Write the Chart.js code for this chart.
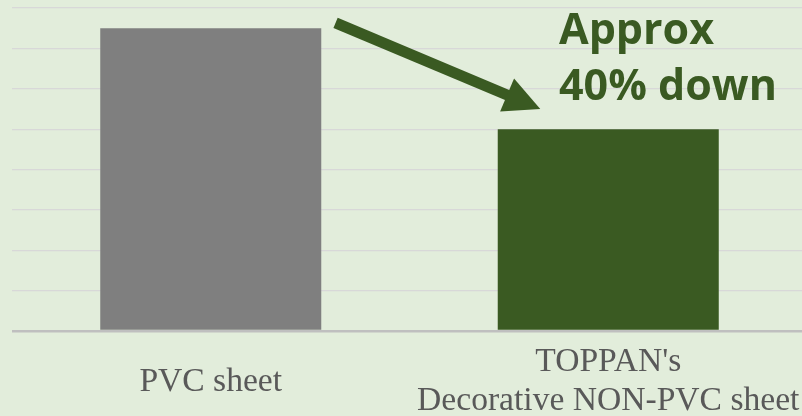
<!DOCTYPE html>
<html>
<head>
<meta charset="utf-8">
<script src="https://cdn.jsdelivr.net/npm/chart.js@4"></script>
<style>
  html, body { margin: 0; padding: 0; background: #e2eddb; overflow: hidden; }
  #wrap { width: 802px; height: 416px; overflow: hidden; position: relative; }
  canvas { display: block; }
</style>
</head>
<body>
<div id="wrap"><canvas id="c" width="807" height="416"></canvas></div>
<script>
// ---- data ----
const categories = ['PVC sheet', ["TOPPAN's", 'Decorative NON-PVC sheet']];
const values = [7.5, 5.0];
const barColors = ['#7f7f7f', '#3a5a22'];
const annotationLines = ['Approx', '40% down'];
// arrow anchors in data units (category index, value)
const arrowFrom = [0.314, 7.63];
const arrowTo = [0.829, 5.50];
const textAnchor = [0.876, 7.11, 5.72];

const annot = {
  id: 'annot',
  afterDatasetsDraw(chart) {
    const ctx = chart.ctx;
    const xs = chart.scales.x, ys = chart.scales.y;
    const x1 = xs.getPixelForValue(arrowFrom[0]), y1 = ys.getPixelForValue(arrowFrom[1]);
    const x2 = xs.getPixelForValue(arrowTo[0]), y2 = ys.getPixelForValue(arrowTo[1]);
    const ang = Math.atan2(y2 - y1, x2 - x1);
    const headLen = 36, headW = 36, shaftW = 11;
    const bx = x2 - headLen * Math.cos(ang), by = y2 - headLen * Math.sin(ang);
    ctx.save();
    ctx.fillStyle = '#3a5a22';
    ctx.strokeStyle = '#3a5a22';
    ctx.lineWidth = shaftW;
    ctx.lineCap = 'butt';
    ctx.beginPath();
    ctx.moveTo(x1, y1);
    ctx.lineTo(bx + 2 * Math.cos(ang), by + 2 * Math.sin(ang));
    ctx.stroke();
    const px = -Math.sin(ang), py = Math.cos(ang);
    ctx.beginPath();
    ctx.moveTo(x2, y2);
    ctx.lineTo(bx + px * headW / 2, by + py * headW / 2);
    ctx.lineTo(bx - px * headW / 2, by - py * headW / 2);
    ctx.closePath();
    ctx.fill();
    ctx.font = 'bold 43px "Open Sans"';
    ctx.textAlign = 'left';
    ctx.textBaseline = 'alphabetic';
    const tx = xs.getPixelForValue(textAnchor[0]);
    ctx.fillText(annotationLines[0], tx, ys.getPixelForValue(textAnchor[1]));
    ctx.fillText(annotationLines[1], tx, ys.getPixelForValue(textAnchor[2]));
    ctx.restore();
  }
};

new Chart(document.getElementById('c'), {
  type: 'bar',
  data: {
    labels: categories,
    datasets: [{
      data: values,
      backgroundColor: barColors,
      borderWidth: 0,
      barPercentage: 1,
      categoryPercentage: 0.556
    }]
  },
  options: {
    responsive: false,
    devicePixelRatio: 1,
    animation: false,
    layout: { padding: { top: 8, left: 12, right: 0, bottom: 0 } },
    plugins: { legend: { display: false }, tooltip: { enabled: false } },
    scales: {
      x: {
        grid: { display: false, drawTicks: true, tickLength: 12 },
        border: { display: false },
        afterFit: (s) => { s.height = 85; },
        ticks: {
          color: '#595959',
          font: (c) => {
            const lab = c.tick ? c.tick.label : null;
            const single = !Array.isArray(lab);
            return { family: '"Liberation Serif"', size: 33.6, lineHeight: single ? '78px' : '39px' };
          },
          padding: 0,
          maxRotation: 0,
          autoSkip: false
        }
      },
      y: {
        min: 0, max: 8,
        ticks: { display: false, stepSize: 1 },
        border: { display: false },
        grid: {
          drawTicks: false,
          color: (c) => c.tick && c.tick.value === 0 ? '#bfbfbf' : '#d8d8d8',
          lineWidth: (c) => c.tick && c.tick.value === 0 ? 2.5 : 1.2
        }
      }
    }
  },
  plugins: [annot]
});
</script>
</body>
</html>
